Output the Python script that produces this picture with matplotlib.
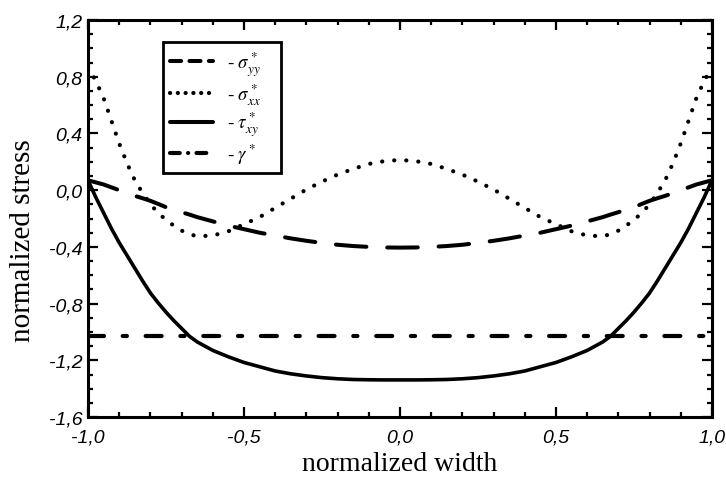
import matplotlib
matplotlib.use("Agg")
import matplotlib.pyplot as plt
import matplotlib.ticker as ticker
from matplotlib.lines import Line2D

# normalized width positions
x = [-1.0, -0.975, -0.95, -0.925, -0.9, -0.875, -0.85, -0.825, -0.8, -0.775,
     -0.75, -0.725, -0.7, -0.675, -0.65, -0.6, -0.55, -0.5, -0.45, -0.4,
     -0.35, -0.3, -0.25, -0.2, -0.15, -0.1, -0.05, 0.0,
     0.05, 0.1, 0.15, 0.2, 0.25, 0.3, 0.35, 0.4, 0.45, 0.5, 0.55, 0.6,
     0.65, 0.675, 0.7, 0.725, 0.75, 0.775, 0.8, 0.825, 0.85, 0.875, 0.9,
     0.925, 0.95, 0.975, 1.0]

sigma_yy = [0.07, 0.055, 0.04, 0.02, 0.0, -0.02, -0.04, -0.057, -0.075, -0.097,
            -0.12, -0.137, -0.155, -0.172, -0.19, -0.22, -0.25, -0.275, -0.30, -0.32,
            -0.34, -0.357, -0.372, -0.385, -0.394, -0.40, -0.404, -0.405,
            -0.404, -0.40, -0.394, -0.385, -0.372, -0.357, -0.34, -0.32, -0.30, -0.275, -0.25, -0.22,
            -0.19, -0.172, -0.155, -0.137, -0.12, -0.097, -0.075, -0.057, -0.04, -0.02, 0.0,
            0.02, 0.04, 0.055, 0.07]

sigma_xx = [0.87, 0.77, 0.65, 0.49, 0.33, 0.19, 0.07, -0.02, -0.10, -0.16,
            -0.21, -0.25, -0.285, -0.31, -0.325, -0.32, -0.29, -0.24, -0.19, -0.125,
            -0.06, 0.005, 0.06, 0.11, 0.15, 0.185, 0.205, 0.213,
            0.205, 0.185, 0.15, 0.11, 0.06, 0.005, -0.06, -0.125, -0.19, -0.24, -0.29, -0.32,
            -0.325, -0.31, -0.285, -0.25, -0.21, -0.16, -0.10, -0.02, 0.07, 0.19, 0.33,
            0.49, 0.65, 0.77, 0.87]

tau_xy = [0.07, -0.05, -0.16, -0.27, -0.37, -0.46, -0.55, -0.64, -0.725, -0.795,
          -0.86, -0.92, -0.975, -1.03, -1.07, -1.13, -1.175, -1.215, -1.245, -1.275,
          -1.295, -1.31, -1.322, -1.33, -1.335, -1.337, -1.338, -1.338,
          -1.338, -1.337, -1.335, -1.33, -1.322, -1.31, -1.295, -1.275, -1.245, -1.215, -1.175, -1.13,
          -1.07, -1.03, -0.975, -0.92, -0.86, -0.795, -0.725, -0.64, -0.55, -0.46, -0.37,
          -0.27, -0.16, -0.05, 0.07]

gamma_x = [-1.0, 1.0]
gamma = [-1.03, -1.03]

labels = [r"- $\sigma^*_{yy}$", r"- $\sigma^*_{xx}$", r"- $\tau^*_{xy}$", r"- $\gamma^*$"]

plt.rcParams["font.family"] = "Liberation Serif"
plt.rcParams["mathtext.fontset"] = "stix"
plt.rcParams["lines.scale_dashes"] = False

fig = plt.figure(figsize=(7.26, 4.85), dpi=100)
ax = fig.add_axes([0.1212, 0.138, 0.8595, 0.8187])

ax.plot(x, sigma_yy, color="black", lw=2.9, dashes=(22, 15), dash_capstyle="round")
ax.plot(x, sigma_xx, color="black", lw=3.0, dashes=(0.1, 8.6), dash_capstyle="round")
ax.plot(x, tau_xy, color="black", lw=2.6, solid_capstyle="round")
ax.plot(gamma_x, gamma, color="black", lw=3.0,
        dashes=(11.5, 13.5, 3, 13.5), dash_capstyle="round")

ax.set_xlim(-1.0, 1.0)
ax.set_ylim(-1.6, 1.2)
ax.xaxis.set_major_locator(ticker.MultipleLocator(0.5))
ax.xaxis.set_minor_locator(ticker.MultipleLocator(0.1))
ax.yaxis.set_major_locator(ticker.MultipleLocator(0.4))
ax.yaxis.set_minor_locator(ticker.MultipleLocator(0.1))

fmt = ticker.FuncFormatter(lambda v, p: ("%.1f" % v).replace(".", ","))
ax.xaxis.set_major_formatter(fmt)
ax.yaxis.set_major_formatter(fmt)

ax.tick_params(which="both", direction="in", top=True, right=True, width=1.6)
ax.tick_params(which="major", length=7, labelsize=14)
ax.tick_params(axis="x", which="major", pad=8)
ax.tick_params(axis="y", which="major", pad=4)
ax.tick_params(which="minor", length=3.5)
for lab in ax.get_xticklabels() + ax.get_yticklabels():
        lab.set_fontfamily("Liberation Sans")
        lab.set_fontstyle("italic")

for s in ax.spines.values():
        s.set_linewidth(2.2)

ax.set_xlabel("normalized width", fontsize=20, labelpad=4)
ax.set_ylabel("normalized stress", fontsize=21)
ax.yaxis.set_label_coords(-0.083, 0.446)

# legend samples drawn shorter than the curves, as in the original
handles = [
        Line2D([], [], color="black", lw=2.9, dashes=(8, 6), dash_capstyle="round"),
        Line2D([], [], color="black", lw=3.0, dashes=(0.1, 5.5), dash_capstyle="round"),
        Line2D([], [], color="black", lw=2.9, solid_capstyle="round"),
        Line2D([], [], color="black", lw=3.0, dashes=(7, 6, 0.1, 6),
               dash_capstyle="round"),
]
leg = ax.legend(handles, labels, loc="upper left",
                bbox_to_anchor=(0.12, 0.632, 0.19, 0.313), mode="expand",
                borderaxespad=0, fancybox=False, frameon=True,
                handlelength=2.3, handletextpad=0.7, labelspacing=0.15,
                fontsize=13.5, borderpad=0.4)
leg.get_frame().set_edgecolor("black")
leg.get_frame().set_linewidth(2.0)
leg.get_frame().set_alpha(1.0)

fig.savefig("out.png", dpi=100)
